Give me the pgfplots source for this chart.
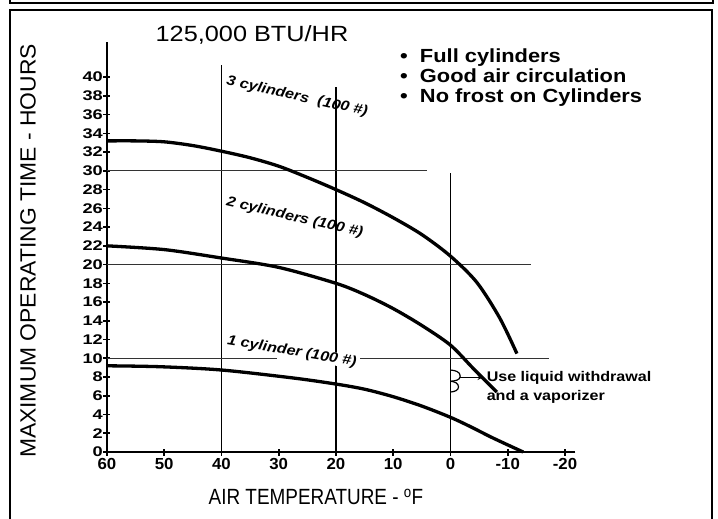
\documentclass[border=0pt]{standalone}
\usepackage{fontspec}
\setmainfont{Liberation Sans}[FakeStretch=1.15]
\newfontfamily\ylabfont{Liberation Sans}[FakeStretch=1.04]
\newfontfamily\xlabfont{Liberation Sans}[FakeStretch=0.86]
\newfontfamily\ytickfont{Liberation Sans Bold}[FakeStretch=1.3]
\newfontfamily\xtickfont{Liberation Sans Bold}[FakeStretch=1.05]
\usepackage{pgfplots}
\pgfplotsset{compat=1.18}
\begin{document}
\begin{tikzpicture}[x=1pt,y=1pt]
\path[use as bounding box] (0,0) rectangle (718,-519);
\draw[line width=2.5pt] (10,3) -- (10,-3) -- (713,-3) -- (713,3);
\draw[line width=2.5pt] (10,-525) -- (10,-10) -- (712,-10) -- (712,-525);
\begin{axis}[
  at={(107pt,-452pt)}, anchor=south west,
  scale only axis, width=468.3pt, height=409.5pt,
  x dir=reverse, xmin=-21.8, xmax=60, ymin=0, ymax=43.7,
  axis lines*=left,
  axis line style={line width=2.4pt},
  clip=false,
  tick align=center, major tick length=7pt,
  tick style={line width=1.6pt, black},
  xtick={60,50,40,30,20,10,0,-10,-20},
  xticklabels={60,50,40,30,20,10,0,-10,-20},
  ytick={0,2,...,40},
  /pgf/number format/assume math mode=true,
  yticklabel style={font=\fontsize{14}{14}\ytickfont, inner sep=0.5pt},
  xticklabel style={font=\fontsize{16}{16}\xtickfont, inner sep=2.5pt},
]
% grid lines
\addplot[black, line width=1.3pt] coordinates {(40,0) (40,41.3)};
\addplot[black, line width=1.1pt] coordinates {(20,0) (20,39)};
\addplot[black, line width=1.3pt] coordinates {(0,0) (0,29.8)};
\addplot[black!80, line width=1pt] coordinates {(60,30) (4.1,30)};
\addplot[black!80, line width=1pt] coordinates {(60,20) (-14,20)};
\addplot[black!80, line width=1pt] coordinates {(60,10) (30.3,10)};
\addplot[black!80, line width=1pt] coordinates {(15.8,10) (-17.2,10)};
% curves
\addplot[black, line width=3.3pt, smooth] coordinates {
 (60,33.2) (55,33.2) (50,33.1) (45,32.7) (40,32.1) (35,31.4) (30,30.5) (25,29.3)
 (20,28.0) (15,26.6) (10,25.0) (5,23.2) (0,20.9) (-4.6,18.1)
 (-8.6,14.3) (-11.6,10.5)};
\addplot[black, line width=3.3pt, smooth] coordinates {
 (60,22.0) (50,21.6) (40,20.7) (30,19.7) (20,18.0) (15,16.8) (10,15.3)
 (5,13.5) (0,11.4) (-4,8.9) (-8.1,6.4)};
\addplot[black, line width=3.3pt, smooth] coordinates {
 (60,9.2) (50.7,9.1) (40,8.75) (27.5,7.9) (20,7.25) (15,6.7) (10,5.9)
 (5,4.9) (0,3.7) (-3.5,2.7) (-7.4,1.5) (-12.7,0)};
% curve labels
\node[rotate=-12.5, font=\fontsize{14}{14}\selectfont\bfseries\itshape] at (axis cs:26.8,37.9) {3 cylinders~~(100 \#)};
\node[rotate=-13, font=\fontsize{14}{14}\selectfont\bfseries\itshape] at (axis cs:27.2,25.0) {2 cylinders (100 \#)};
\node[rotate=-9.5, font=\fontsize{14}{14}\selectfont\bfseries\itshape, fill=white, inner sep=0pt] at (axis cs:27.7,10.7) {1 cylinder (100 \#)};
% vaporizer note
\draw[black, line width=1.2pt] (axis cs:0,8.75) to[out=-5,in=90] (axis cs:-1.7,8.1) to[out=-90,in=5] (axis cs:0,7.55);
\draw[black, line width=1.2pt] (axis cs:0,7.55) to[out=-5,in=90] (axis cs:-1.4,6.95) to[out=-90,in=5] (axis cs:0,6.4);
\draw[black, line width=1.2pt, -stealth] (axis cs:-1.7,7.95) -- (axis cs:-5.6,7.95);
\node[anchor=west, align=left, inner sep=0pt, font=\fontsize{14}{19}\selectfont\bfseries] at (axis cs:-6.3,6.85) {Use liquid withdrawal\\and a vaporizer};
\end{axis}
% titles
\node[font=\fontsize{22}{22}\selectfont] at (252,-35) {125,000 BTU/HR};
\node[anchor=north west, align=left, inner sep=0pt, font=\fontsize{19}{20}\selectfont\bfseries] at (400,-49) {\textbullet\ \ Full cylinders\\\textbullet\ \ Good air circulation\\\textbullet\ \ No frost on Cylinders};
\node[rotate=90, font=\fontsize{22}{22}\ylabfont] at (28,-251) {MAXIMUM OPERATING TIME - HOURS};
\node[font=\fontsize{22}{22}\xlabfont] at (316,-497) {AIR TEMPERATURE - \textsuperscript{o}F};
\end{tikzpicture}
\end{document}
